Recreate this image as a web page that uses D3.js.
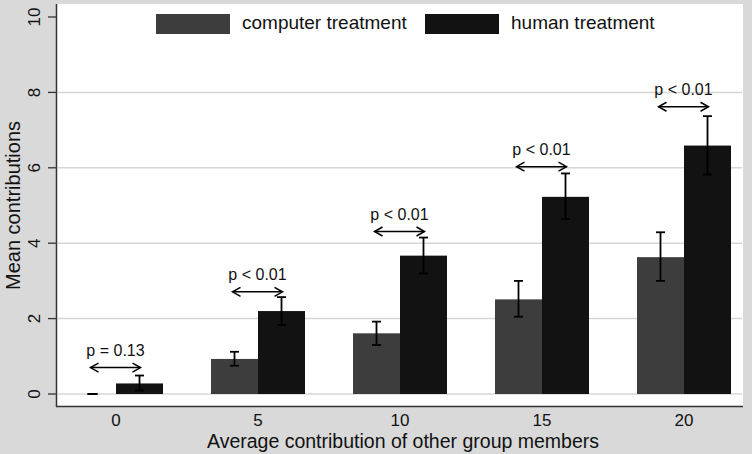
<!DOCTYPE html>
<html>
<head>
<meta charset="utf-8">
<script src="https://cdn.jsdelivr.net/npm/d3@7"></script>
<style>
  html, body { margin: 0; padding: 0; background: #d9d9d9; }
  svg { display: block; }
  text { font-family: "Liberation Sans", Arial, Helvetica, sans-serif; fill: #111; }
</style>
</head>
<body>
<script>
// ---- data ----
const categories = ["0", "5", "10", "15", "20"];
const seriesNames = ["computer treatment", "human treatment"];
const computerMean = [0.0, 0.93, 1.61, 2.51, 3.63];
const computerLow  = [0.0, 0.75, 1.30, 2.05, 3.00];
const computerHigh = [0.0, 1.12, 1.92, 3.00, 4.29];
const humanMean = [0.28, 2.20, 3.67, 5.23, 6.59];
const humanLow  = [0.09, 1.83, 3.20, 4.64, 5.82];
const humanHigh = [0.49, 2.57, 4.15, 5.85, 7.37];
const pLabels = ["p = 0.13", "p < 0.01", "p < 0.01", "p < 0.01", "p < 0.01"];
const pArrowLevel = [0.70, 2.71, 4.31, 6.03, 7.62];
const yTicks = [0, 2, 4, 6, 8, 10];
const xTitle = "Average contribution of other group members";
const yTitle = "Mean contributions";

const W = 752, H = 454;
const plot = { left: 57, right: 743, top: 4, bottom: 407 };
const colors = { "computer treatment": "#3d3d3d", "human treatment": "#121212" };

const svg = d3.select("body").append("svg").attr("width", W).attr("height", H);
svg.append("rect").attr("width", W).attr("height", H).attr("fill", "#d9d9d9");
svg.append("rect")
  .attr("x", plot.left).attr("y", plot.top)
  .attr("width", plot.right - plot.left).attr("height", plot.bottom - plot.top)
  .attr("fill", "#ffffff");

const x0 = d3.scalePoint().domain(categories).range([plot.left, plot.right]).padding(0.4155);
const x1 = d3.scaleBand().domain(seriesNames).range([-47, 47]).padding(0);
const y = d3.scaleLinear().domain([0, 10]).range([394, 17]);

// gridlines (not at top)
svg.append("g").selectAll("line").data(yTicks.filter(t => t < 10)).join("line")
  .attr("x1", plot.left + 1).attr("x2", plot.right - 1)
  .attr("y1", d => y(d)).attr("y2", d => y(d))
  .attr("stroke", "#d6d6d6").attr("stroke-width", 1.5);

// bars
const rows = [];
categories.forEach((c, i) => {
  rows.push({ cat: c, s: seriesNames[0], v: computerMean[i], lo: computerLow[i], hi: computerHigh[i] });
  rows.push({ cat: c, s: seriesNames[1], v: humanMean[i], lo: humanLow[i], hi: humanHigh[i] });
});
svg.append("g").selectAll("rect").data(rows.filter(d => d.v > 0)).join("rect")
  .attr("x", d => x0(d.cat) + x1(d.s))
  .attr("width", x1.bandwidth())
  .attr("y", d => y(d.v))
  .attr("height", d => y(0) - y(d.v))
  .attr("fill", d => colors[d.s]);

// error bars
const eg = svg.append("g").attr("stroke", "#000").attr("stroke-width", 1.8).attr("fill", "none");
rows.forEach(d => {
  const cx = x0(d.cat) + x1(d.s) + x1.bandwidth() / 2;
  const cw = d.hi === d.lo ? 5 : 4.5;
  eg.append("line").attr("x1", cx).attr("x2", cx).attr("y1", y(d.hi)).attr("y2", y(d.lo));
  eg.append("line").attr("x1", cx - cw).attr("x2", cx + cw).attr("y1", y(d.hi)).attr("y2", y(d.hi));
  eg.append("line").attr("x1", cx - cw).attr("x2", cx + cw).attr("y1", y(d.lo)).attr("y2", y(d.lo));
});

// p-value arrows
const ag = svg.append("g");
categories.forEach((c, i) => {
  const xa = x0(c) + x1(seriesNames[0]) + x1.bandwidth() / 2 - 2;
  const xb = x0(c) + x1(seriesNames[1]) + x1.bandwidth() / 2 + 1;
  const ya = y(pArrowLevel[i]);
  const g = ag.append("g").attr("stroke", "#000").attr("stroke-width", 1.5).attr("fill", "none");
  g.append("line").attr("x1", xa).attr("x2", xb).attr("y1", ya).attr("y2", ya);
  g.append("path").attr("d", `M${xa + 8},${ya - 4.5}L${xa},${ya}L${xa + 8},${ya + 4.5}`);
  g.append("path").attr("d", `M${xb - 8},${ya - 4.5}L${xb},${ya}L${xb - 8},${ya + 4.5}`);
  ag.append("text")
    .attr("x", (xa + xb) / 2).attr("y", ya - 12)
    .attr("text-anchor", "middle").attr("font-size", 16)
    .text(pLabels[i]);
});

// axes lines
svg.append("line").attr("x1", plot.left - 0.5).attr("x2", plot.left - 0.5)
  .attr("y1", plot.top).attr("y2", plot.bottom).attr("stroke", "#333").attr("stroke-width", 1.5);
svg.append("line").attr("x1", plot.left - 1).attr("x2", plot.right)
  .attr("y1", plot.bottom - 0.5).attr("y2", plot.bottom - 0.5).attr("stroke", "#333").attr("stroke-width", 1.5);

// y ticks
const yt = svg.append("g");
yTicks.forEach(t => {
  yt.append("line").attr("x1", 48).attr("x2", plot.left - 1)
    .attr("y1", y(t)).attr("y2", y(t)).attr("stroke", "#333").attr("stroke-width", 1.3);
  yt.append("text")
    .attr("transform", `translate(40,${y(t)}) rotate(-90)`)
    .attr("text-anchor", "middle").attr("font-size", 17)
    .text(d3.format("d")(t));
});

// x tick labels
svg.append("g").selectAll("text").data(categories).join("text")
  .attr("x", d => x0(d)).attr("y", 426)
  .attr("text-anchor", "middle").attr("font-size", 17)
  .text(d => d);

// titles
svg.append("text").attr("x", (plot.left + plot.right) / 2 + 3).attr("y", 448)
  .attr("text-anchor", "middle").attr("font-size", 19.5).text(xTitle);
svg.append("text").attr("transform", `translate(20,${y(5)}) rotate(-90)`)
  .attr("text-anchor", "middle").attr("font-size", 20).text(yTitle);

// legend
const legendX = [156, 425];
const lg = svg.append("g");
seriesNames.forEach((s, i) => {
  lg.append("rect").attr("x", legendX[i]).attr("y", 14).attr("width", 74).attr("height", 20)
    .attr("fill", colors[s]);
  lg.append("text").attr("x", legendX[i] + 86).attr("y", 29)
    .attr("font-size", 19).text(s);
});
</script>
</body>
</html>
